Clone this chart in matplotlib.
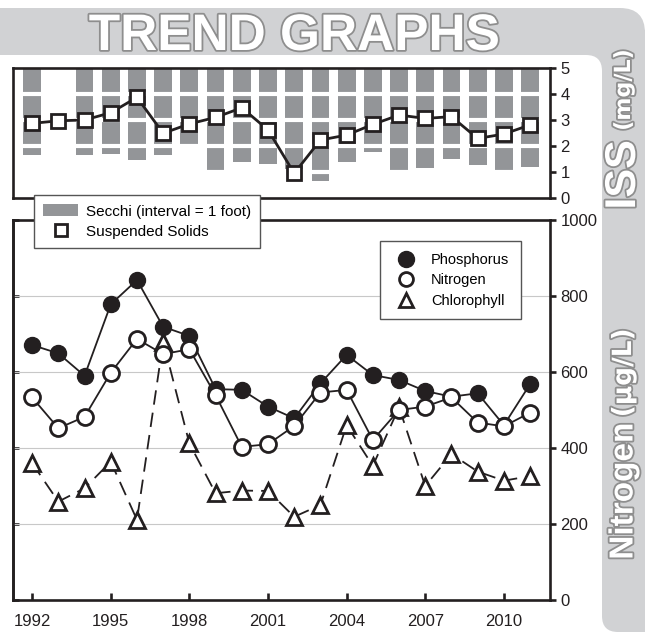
import matplotlib
matplotlib.use("Agg")
import matplotlib.pyplot as plt
import matplotlib.patheffects as pe
from matplotlib.patches import FancyBboxPatch, Patch
from matplotlib.lines import Line2D
import numpy as np

plt.rcParams["font.family"] = ["Liberation Sans", "DejaVu Sans"]

# ---------------------------------------------------------------------------
# data
# ---------------------------------------------------------------------------

years = list(range(1992, 2012))

# Secchi depth, feet down from the top of the ISS panel (1993 missing)
secchi_ft = [3.35, np.nan, 3.35, 3.32, 3.54, 3.35, 2.97, 3.92, 3.60, 3.70,
             3.90, 4.35, 3.63, 3.22, 3.92, 3.86, 3.50, 3.73, 3.95, 3.80]

# inorganic suspended solids, mg/L
iss = [2.87, 2.97, 3.00, 3.28, 3.87, 2.49, 2.85, 3.10, 3.47, 2.62,
       0.95, 2.23, 2.42, 2.83, 3.19, 3.06, 3.13, 2.29, 2.46, 2.81]

# ug/L
phosphorus = [671, 649, 590, 778, 842, 719, 695, 555, 553, 509,
              478, 570, 645, 592, 579, 550, 535, 544, 460, 568]
nitrogen = [533, 452, 482, 598, 687, 647, 660, 539, 403, 410,
            458, 546, 553, 421, 500, 509, 533, 467, 457, 493]
chlorophyll = [360, 259, 294, 364, 211, 680, 412, 281, 288, 287,
               219, 250, 460, 353, 507, 300, 384, 338, 314, 326]

iss_ticks = [0, 1, 2, 3, 4, 5]
conc_ticks = [0, 200, 400, 600, 800, 1000]
year_ticks = [1992, 1995, 1998, 2001, 2004, 2007, 2010]

# ---------------------------------------------------------------------------
# styling
# ---------------------------------------------------------------------------

W, H = 645, 635
INK = "#231f20"
BAR_GREY = "#939598"
PANEL_GREY = "#d1d2d4"
OUTLINE = [pe.withStroke(linewidth=2.6, foreground="#8e8e8e")]


def px_box(x0, y0, x1, y1):
    """pixel box (top-left origin) -> inches box for dpi_scale_trans"""
    return x0 / 100, (H - y1) / 100, (x1 - x0) / 100, (y1 - y0) / 100


def style_axes(ax):
    for s in ax.spines.values():
        s.set_linewidth(1.9)
        s.set_color(INK)
    ax.yaxis.tick_right()
    ax.tick_params(axis="y", which="both", right=True, left=False,
                   direction="out", length=4, width=1.9, color=INK,
                   labelsize=12, pad=3.5, labelcolor=INK)
    ax.set_facecolor("white")


fig = plt.figure(figsize=(W / 100, H / 100), dpi=100)
fig.patch.set_facecolor("white")

# background shapes: grey banner, grey right strip, white body
for (x0, y0, x1, y1), col, r in [
    ((-40, 8, 645, 90), PANEL_GREY, 0.25),
    ((602, 30, 700, 632), PANEL_GREY, 0.16),
    ((-40, 55, 602, 700), "white", 0.16),
]:
    bx, by, bw, bh = px_box(x0, y0, x1, y1)
    fig.add_artist(FancyBboxPatch(
        (bx, by), bw, bh,
        boxstyle=f"round,pad=0,rounding_size={r}",
        transform=fig.dpi_scale_trans,
        facecolor=col, edgecolor="none", zorder=-10,
    ))

fig.text(294 / W, 1 - 50 / H, "TREND GRAPHS", ha="center", va="baseline",
         fontsize=37, fontweight="bold", color="white", path_effects=OUTLINE)

side = dict(rotation=90, ha="center", va="center", fontweight="bold",
            color="white", path_effects=OUTLINE)
fig.text(624 / W, 1 - 175 / H, "ISS", fontsize=31, **side)
fig.text(624 / W, 1 - 90 / H, "(mg/L)", fontsize=16,
         family=["DejaVu Sans"], **side)
fig.text(624 / W, 1 - 491 / H, "Nitrogen", fontsize=24, **side)
fig.text(624 / W, 1 - 373 / H, "(µg/L)", fontsize=19,
         family=["DejaVu Sans"], **side)

xlim = (1991.27, 2011.76)

# ---------------------------------------------------------------------------
# top panel: Secchi bars + ISS
# ---------------------------------------------------------------------------

ax_top = fig.add_axes([13 / W, 1 - 198 / H, 537 / W, 130 / H])
style_axes(ax_top)

ax_top.bar(years, [-d for d in secchi_ft], bottom=5, width=0.68,
           color=BAR_GREY, zorder=1)
for v in iss_ticks[1:-1]:
    ax_top.axhline(v, color="white", lw=3, zorder=1.5)

ax_top.plot(years, iss, color=INK, lw=2, marker="s", ms=9.5,
            mfc="white", mec=INK, mew=2, zorder=3)

ax_top.set_xlim(*xlim)
ax_top.set_ylim(0, 5)
ax_top.set_yticks(iss_ticks)
ax_top.set_xticks([])

# ---------------------------------------------------------------------------
# bottom panel: nutrients
# ---------------------------------------------------------------------------

ax_bot = fig.add_axes([13 / W, 1 - 600 / H, 537 / W, 380 / H])
style_axes(ax_bot)

for v in conc_ticks[1:-1]:
    ax_bot.axhline(v, color="#c8c8c8", lw=0.8, zorder=0.5)

ax_bot.plot(years, phosphorus, color=INK, lw=1.3, marker="o", ms=11.5,
            mfc=INK, mec=INK, zorder=3)
ax_bot.plot(years, chlorophyll, color=INK, lw=1.3, ls=(0, (8, 4.5)),
            marker="^", ms=11, mfc="white", mec=INK, mew=2, zorder=4)
ax_bot.plot(years, nitrogen, color=INK, lw=1.3, marker="o", ms=11.5,
            mfc="white", mec=INK, mew=2, zorder=5)

ax_bot.set_xlim(*xlim)
ax_bot.set_ylim(0, 1000)
ax_bot.set_yticks(conc_ticks)
ax_bot.set_xticks(year_ticks)
ax_bot.tick_params(axis="x", direction="in", length=5, width=1.9, color=INK,
                   labelsize=12, pad=10, labelcolor=INK)

# inward ticks on the left spine
left = ax_bot.secondary_yaxis("left")
left.set_yticks(conc_ticks)
left.tick_params(direction="in", length=4, width=1.9, color=INK,
                 labelleft=False)
left.spines["left"].set_linewidth(1.9)
left.spines["left"].set_color(INK)

# ---------------------------------------------------------------------------
# legends
# ---------------------------------------------------------------------------

top_handles = [
    Patch(facecolor=BAR_GREY, edgecolor="none"),
    Line2D([], [], ls="none", marker="s", ms=9, mfc="white", mec=INK, mew=2),
]
fig.legend(top_handles, ["Secchi (interval = 1 foot)", "Suspended Solids"],
           loc="upper left", bbox_to_anchor=(34 / W, 1 - 195 / H),
           frameon=True, fancybox=False, edgecolor="#555555", framealpha=1,
           fontsize=11, handlelength=2.3, handleheight=0.85,
           handletextpad=0.5, borderpad=0.6, labelspacing=0.4,
           borderaxespad=0)

bot_handles = [
    Line2D([], [], ls="none", marker="o", ms=11.5, mfc=INK, mec=INK),
    Line2D([], [], ls="none", marker="o", ms=10, mfc="white", mec=INK, mew=2),
    Line2D([], [], ls="none", marker="^", ms=10, mfc="white", mec=INK, mew=2),
]
fig.legend(bot_handles, ["Phosphorus", "Nitrogen", "Chlorophyll"],
           loc="upper left", bbox_to_anchor=(380 / W, 1 - 241 / H),
           frameon=True, fancybox=False, edgecolor="#555555", framealpha=1,
           fontsize=10.5, handlelength=2.0, handletextpad=0.7,
           borderpad=0.8, labelspacing=0.45, borderaxespad=0)

fig.savefig("out.png", dpi=100)
